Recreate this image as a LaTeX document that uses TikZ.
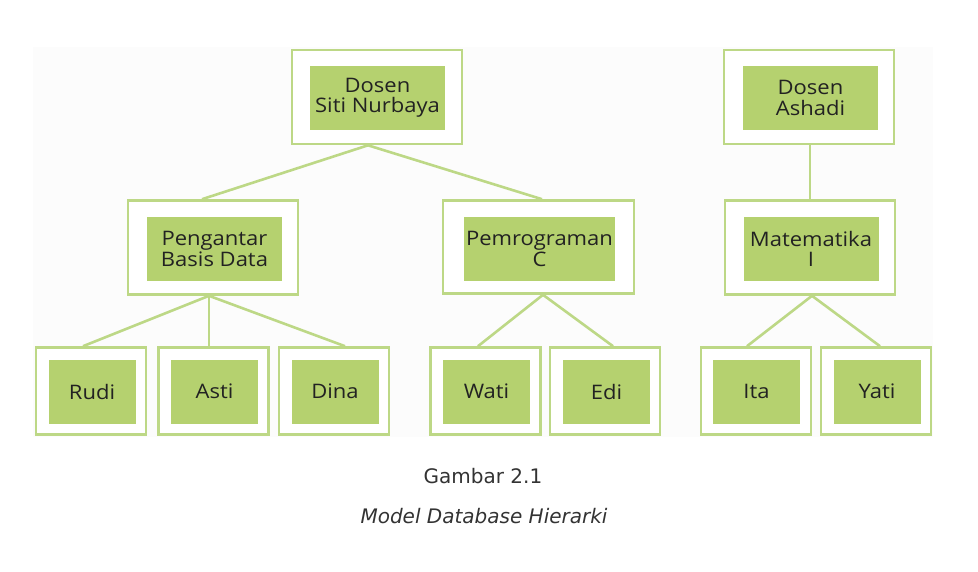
\documentclass[tikz,border=0pt]{standalone}
\usepackage{fontspec}
\setmainfont[FakeStretch=1.1]{Open Sans}
\newfontfamily\capfont{DejaVu Sans}
\definecolor{boxgreen}{HTML}{B5D16F}
\definecolor{linegreen}{HTML}{BDD886}
\definecolor{txt}{HTML}{222222}
\definecolor{captxt}{HTML}{333333}
\definecolor{bgpane}{HTML}{FCFCFC}
\begin{document}
\begin{tikzpicture}[x=1pt,y=-1pt,
  outerbox/.style={draw=linegreen,line width=2.6pt,fill=white,inner sep=0pt},
  innerbox/.style={fill=boxgreen,inner sep=0pt,text=txt,align=center,
    font=\fontsize{20}{20.5}\selectfont},
  leafout/.style={outerbox,minimum width=110pt,minimum height=87pt},
  leafin/.style={innerbox,minimum width=87pt,minimum height=64pt},
  midout/.style={outerbox,minimum width=170pt,minimum height=94pt},
  midin/.style={innerbox,minimum width=135pt,minimum height=64pt},
  conn/.style={draw=linegreen,line width=2.6pt},
  captext/.style={font=\capfont\fontsize{20}{22}\selectfont,text=captxt,anchor=base}]
\useasboundingbox (0,0) rectangle (978,571);
\fill[bgpane] (33,47) rectangle (933,437);

% top level
\node[midout] (d1o) at (377,97) {};
\node[midin] (d1) at (377.5,98) {Dosen\\Siti Nurbaya};
\node[midout] (d2o) at (809,97) {};
\node[midin] (d2) at (810.5,98) {Dosen\\Ashadi};

% middle level
\node[midout] (pgo) at (213,247.5) {};
\node[midin] (pg) at (214.5,249) {Pengantar\\Basis Data};
\node[outerbox,minimum width=191pt,minimum height=93pt] (pmo) at (538.5,247) {};
\node[innerbox,minimum width=151pt,minimum height=64pt] (pm) at (539.5,249) {Pemrograman\\C};
\node[midout] (mto) at (810,247.5) {};
\node[midin] (mt) at (811,249) {Matematika\\I};

% leaves
\node[leafout] (rdo) at (91,391) {};
\node[leafin] (rd) at (92,391.5) {Rudi};
\node[leafout] (aso) at (213.5,391) {};
\node[leafin] (as) at (214.5,391.5) {Asti};
\node[leafout] (dno) at (334,391) {};
\node[leafin] (dn) at (335,391.5) {Dina};
\node[leafout] (wto) at (485.5,391) {};
\node[leafin] (wt) at (486.5,391.5) {Wati};
\node[leafout] (edo) at (605,391) {};
\node[leafin] (ed) at (606.5,391.5) {Edi};
\node[leafout] (ito) at (756,391) {};
\node[leafin] (it) at (756.5,391.5) {Ita};
\node[leafout] (yto) at (876,391) {};
\node[leafin] (yt) at (877,391.5) {Yati};

% connectors
\draw[conn] ([xshift=-9pt]d1o.south) -- ([xshift=-11pt]pgo.north);
\draw[conn] ([xshift=-9pt]d1o.south) -- ([xshift=3.5pt]pmo.north);
\draw[conn] ([xshift=1pt]d2o.south) -- (mto.north);
\draw[conn] ([xshift=-4pt]pgo.south) -- ([xshift=-8pt]rdo.north);
\draw[conn] ([xshift=-4pt]pgo.south) -- ([xshift=-4.5pt]aso.north);
\draw[conn] ([xshift=-4pt]pgo.south) -- ([xshift=11pt]dno.north);
\draw[conn] ([xshift=4.5pt]pmo.south) -- ([xshift=-7.5pt]wto.north);
\draw[conn] ([xshift=4.5pt]pmo.south) -- ([xshift=8pt]edo.north);
\draw[conn] ([xshift=2pt]mto.south) -- ([xshift=-9pt]ito.north);
\draw[conn] ([xshift=2pt]mto.south) -- ([xshift=4pt]yto.north);

% caption
\node[captext] (cap1) at (483,483) {Gambar 2.1};
\node[captext] (cap2) at (484,523) {\itshape Model Database Hierarki};
\end{tikzpicture}
\end{document}
